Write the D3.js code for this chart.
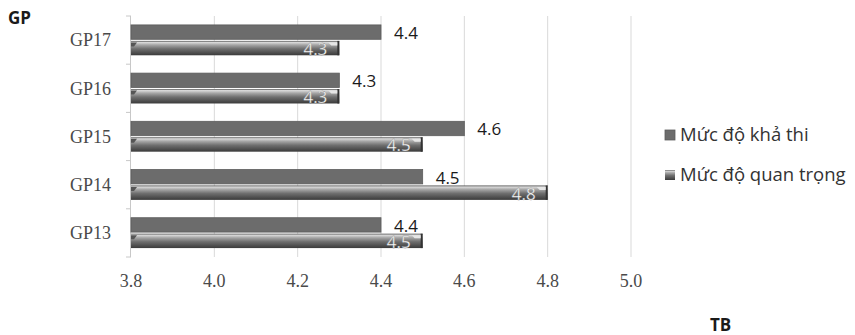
<!DOCTYPE html>
<html>
<head>
<meta charset="utf-8">
<script src="https://cdn.jsdelivr.net/npm/d3@7"></script>
<style>
  html, body { margin: 0; padding: 0; background: #fff; }
  svg { display: block; }
</style>
</head>
<body>
<svg id="chart" width="855" height="335"></svg>
<script>
// Categories listed top to bottom
const categories = ["GP17", "GP16", "GP15", "GP14", "GP13"];
const seriesNames = ["Mức độ khả thi", "Mức độ quan trọng"];
const feasibility = [4.4, 4.3, 4.6, 4.5, 4.4];
const importance = [4.3, 4.3, 4.5, 4.8, 4.5];
const xTicks = [3.8, 4.0, 4.2, 4.4, 4.6, 4.8, 5.0];

const svg = d3.select("#chart");
const serif = "'Liberation Serif', 'DejaVu Serif', serif";
const sans = "'Open Sans', 'Noto Sans', sans-serif";

const plot = { left: 131, right: 631, top: 16, bottom: 257 };

const x = d3.scaleLinear().domain([3.8, 5.0]).range([plot.left, plot.right]);
const y = d3.scaleBand().domain(categories).range([plot.top, plot.bottom])
  .paddingInner(0.37).paddingOuter(0.185);
const ySub = d3.scaleBand().domain(seriesNames).range([0, y.bandwidth()]).paddingInner(0.1);

// Gradient for the bevelled series
const defs = svg.append("defs");
const g1 = defs.append("linearGradient").attr("id", "bevel").attr("x1", 0).attr("y1", 0).attr("x2", 0).attr("y2", 1);
[["0%", "#4a4a4a"], ["10%", "#dadada"], ["28%", "#a6a6a6"], ["55%", "#6f6f6f"], ["100%", "#3a3a3a"]]
  .forEach(([o, c]) => g1.append("stop").attr("offset", o).attr("stop-color", c));

// Vertical grid lines
svg.append("g").selectAll("line").data(xTicks.slice(1)).join("line")
  .attr("x1", d => x(d)).attr("x2", d => x(d))
  .attr("y1", plot.top).attr("y2", plot.bottom)
  .attr("stroke", "#d9d9d9").attr("stroke-width", 1);

// Category axis line with ticks
const yAxis = svg.append("g");
yAxis.append("line").attr("x1", plot.left - 0.5).attr("x2", plot.left - 0.5)
  .attr("y1", plot.top).attr("y2", plot.bottom).attr("stroke", "#c8c8c8");
const boundaries = categories.map(c => y(c) - y.step() * y.paddingOuter()).concat([plot.bottom]);
yAxis.selectAll("line.tk").data(boundaries).join("line").attr("class", "tk")
  .attr("x1", plot.left - 5).attr("x2", plot.left)
  .attr("y1", d => d).attr("y2", d => d).attr("stroke", "#c8c8c8");

// Category labels
svg.append("g").selectAll("text").data(categories).join("text")
  .attr("x", 111).attr("y", d => y(d) + y.bandwidth() / 2)
  .attr("dy", "0.35em").attr("text-anchor", "end")
  .attr("font-family", serif).attr("font-size", 18).attr("fill", "#4a4a4a")
  .text(d => d);

// Value axis labels
svg.append("g").selectAll("text").data(xTicks).join("text")
  .attr("x", d => x(d)).attr("y", 287)
  .attr("text-anchor", "middle")
  .attr("font-family", serif).attr("font-size", 18).attr("fill", "#4a4a4a")
  .text(d => d.toFixed(1));

// Feasibility bars (flat)
const rows = categories.map((c, i) => ({ c, f: feasibility[i], imp: importance[i] }));
svg.append("g").selectAll("rect").data(rows).join("rect")
  .attr("x", x(3.8)).attr("y", d => y(d.c) + ySub(seriesNames[0]))
  .attr("width", d => x(d.f) - x(3.8)).attr("height", ySub.bandwidth())
  .attr("fill", "#6c6c6c").attr("stroke", "#5c5c5c").attr("stroke-width", 0.8);

svg.append("g").selectAll("text").data(rows).join("text")
  .attr("x", d => x(d.f) + 13)
  .attr("y", d => y(d.c) + ySub(seriesNames[0]) + ySub.bandwidth() / 2 + 1)
  .attr("dy", "0.35em")
  .attr("font-family", sans).attr("font-size", 17).attr("fill", "#1a1a1a")
  .text(d => d.f.toFixed(1));

// Importance bars (bevelled)
const impBars = svg.append("g").selectAll("g").data(rows).join("g");
impBars.append("rect")
  .attr("x", x(3.8)).attr("y", d => y(d.c) + ySub(seriesNames[1]))
  .attr("width", d => x(d.imp) - x(3.8)).attr("height", ySub.bandwidth())
  .attr("fill", "url(#bevel)");
// right end cap
impBars.append("rect")
  .attr("x", d => x(d.imp) - 2).attr("y", d => y(d.c) + ySub(seriesNames[1]))
  .attr("width", 2).attr("height", ySub.bandwidth())
  .attr("fill", "#333");
impBars.append("path")
  .attr("d", d => {
    const x1 = x(d.imp) - 2, y0 = y(d.c) + ySub(seriesNames[1]) + 1.5;
    return `M${x1 - 9},${y0} L${x1},${y0} L${x1},${y0 + 3} L${x1 - 6},${y0 + 3} Z`;
  })
  .attr("fill", "#e6e6e6");
// left bevel
impBars.append("path")
  .attr("d", d => {
    const x0 = x(3.8), y0 = y(d.c) + ySub(seriesNames[1]) + 1.5;
    return `M${x0},${y0} L${x0 + 6},${y0} L${x0 + 3},${y0 + 4} L${x0},${y0 + 4} Z`;
  })
  .attr("fill", "#555");

impBars.append("text")
  .attr("x", d => x(d.imp) - 12)
  .attr("y", d => y(d.c) + ySub(seriesNames[1]) + ySub.bandwidth() / 2 + 1)
  .attr("dy", "0.35em").attr("text-anchor", "end")
  .attr("font-family", sans).attr("font-size", 17).attr("fill", "#ffffff")
  .attr("stroke", "#777").attr("stroke-width", 0.3)
  .text(d => d.imp.toFixed(1));

// Legend
const legend = svg.append("g");
const legY = [135, 175];
legend.append("rect").attr("x", 665).attr("y", legY[0] - 5).attr("width", 10).attr("height", 10)
  .attr("fill", "#6c6c6c").attr("stroke", "#5c5c5c").attr("stroke-width", 0.8);
legend.append("rect").attr("x", 665).attr("y", legY[1] - 5).attr("width", 10).attr("height", 10)
  .attr("fill", "url(#bevel)");
legend.selectAll("text").data(seriesNames).join("text")
  .attr("x", 680).attr("y", (d, i) => legY[i])
  .attr("dy", "0.35em")
  .attr("font-family", sans).attr("font-size", 18.5).attr("fill", "#333")
  .text(d => d);

// Axis titles
svg.append("text").attr("x", 8).attr("y", 24)
  .attr("font-family", sans).attr("font-weight", "bold").attr("font-size", 17).attr("fill", "#1a1a1a")
  .text("GP");
svg.append("text").attr("x", 710).attr("y", 331)
  .attr("font-family", sans).attr("font-weight", "bold").attr("font-size", 17).attr("fill", "#1a1a1a")
  .text("TB");
</script>
</body>
</html>
